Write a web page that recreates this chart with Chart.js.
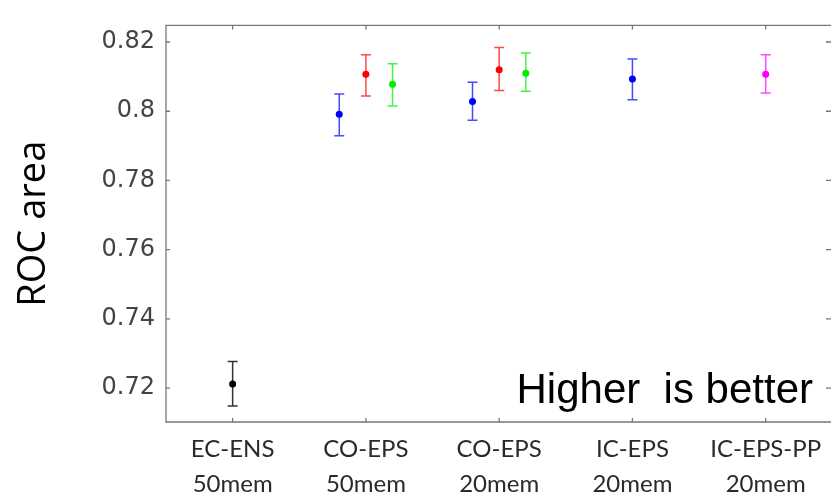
<!DOCTYPE html>
<html>
<head>
<meta charset="utf-8">
<title>ROC area</title>
<script src="https://cdn.jsdelivr.net/npm/chart.js@4.4.0/dist/chart.umd.min.js"></script>
<style>
  html, body { margin: 0; padding: 0; background: #fff; }
  #wrap { width: 835px; height: 498px; }
</style>
</head>
<body>
<div id="wrap"><canvas id="chart" width="835" height="498"></canvas></div>
<script>
// categories on the x axis (two lines each)
const categories = [
  ['EC-ENS', '50mem'],
  ['CO-EPS', '50mem'],
  ['CO-EPS', '20mem'],
  ['IC-EPS', '20mem'],
  ['IC-EPS-PP', '20mem']
];
const yTicks = [0.72, 0.74, 0.76, 0.78, 0.8, 0.82];

// series: x position (category index), mean, lower and upper error bound
const blackPos = [1];
const blackMean = [0.7212];
const blackLow = [0.7148];
const blackHigh = [0.7277];

const bluePos = [1.8, 2.8, 4];
const blueMean = [0.7991, 0.8028, 0.8093];
const blueLow = [0.7929, 0.7974, 0.8033];
const blueHigh = [0.8050, 0.8084, 0.8151];

const redPos = [2, 3];
const redMean = [0.8107, 0.8120];
const redLow = [0.8044, 0.8060];
const redHigh = [0.8163, 0.8184];

const greenPos = [2.2, 3.2];
const greenMean = [0.8078, 0.8110];
const greenLow = [0.8015, 0.8058];
const greenHigh = [0.8137, 0.8168];

const magentaPos = [5];
const magentaMean = [0.8107];
const magentaLow = [0.8053];
const magentaHigh = [0.8163];

function makeSet(pos, mean, low, high, color, barColor) {
  return {
    data: pos.map((x, i) => ({ x: x, y: mean[i], lo: low[i], hi: high[i] })),
    backgroundColor: color,
    borderColor: color,
    barColor: barColor,
    pointRadius: 3.5,
    borderWidth: 0,
    showLine: false
  };
}

// error bars drawn under the points
const errorBars = {
  id: 'errorBars',
  beforeDatasetsDraw(chart) {
    const ctx = chart.ctx;
    const xs = chart.scales.x, ys = chart.scales.y;
    ctx.save();
    chart.data.datasets.forEach(ds => {
      ctx.strokeStyle = ds.barColor;
      ctx.lineWidth = 1.5;
      ds.data.forEach(p => {
        const x = xs.getPixelForValue(p.x);
        const yl = ys.getPixelForValue(p.lo);
        const yh = ys.getPixelForValue(p.hi);
        ctx.beginPath();
        ctx.moveTo(x, yl); ctx.lineTo(x, yh);
        ctx.moveTo(x - 5, yl); ctx.lineTo(x + 5, yl);
        ctx.moveTo(x - 5, yh); ctx.lineTo(x + 5, yh);
        ctx.stroke();
      });
    });
    ctx.restore();
  }
};

// box with inward ticks, plus the note
const frame = {
  id: 'frame',
  afterDraw(chart) {
    const ctx = chart.ctx;
    const a = chart.chartArea;
    const xs = chart.scales.x, ys = chart.scales.y;
    ctx.save();
    ctx.strokeStyle = '#777';
    ctx.lineWidth = 1.3;
    ctx.beginPath();
    ctx.moveTo(a.right, a.top); ctx.lineTo(a.left, a.top);
    ctx.lineTo(a.left, a.bottom); ctx.lineTo(a.right, a.bottom);
    yTicks.forEach(v => {
      const y = ys.getPixelForValue(v);
      ctx.moveTo(a.left, y); ctx.lineTo(a.left + 4, y);
      ctx.moveTo(a.right, y); ctx.lineTo(a.right - 5, y);
    });
    categories.forEach((c, i) => {
      const x = xs.getPixelForValue(i + 1);
      ctx.moveTo(x, a.bottom); ctx.lineTo(x, a.bottom - 4);
      ctx.moveTo(x, a.top); ctx.lineTo(x, a.top + 4);
    });
    ctx.stroke();

    ctx.fillStyle = '#000';
    ctx.font = '42px "Liberation Sans", Arial, sans-serif';
    ctx.textAlign = 'right';
    ctx.textBaseline = 'alphabetic';
    ctx.fillText('Higher  is better', a.right - 18, a.bottom - 19);
    ctx.restore();
  }
};

new Chart(document.getElementById('chart'), {
  type: 'scatter',
  data: {
    datasets: [
      makeSet(blackPos, blackMean, blackLow, blackHigh, '#000000', '#333333'),
      makeSet(bluePos, blueMean, blueLow, blueHigh, '#0000ff', 'rgba(40,40,255,0.85)'),
      makeSet(redPos, redMean, redLow, redHigh, '#ff0000', 'rgba(255,40,40,0.85)'),
      makeSet(greenPos, greenMean, greenLow, greenHigh, '#00ee00', 'rgba(40,240,40,0.85)'),
      makeSet(magentaPos, magentaMean, magentaLow, magentaHigh, '#ff00ff', 'rgba(255,40,255,0.85)')
    ]
  },
  options: {
    responsive: false,
    animation: false,
    devicePixelRatio: 1,
    layout: { padding: { top: 12, right: 0, left: 0, bottom: 0 } },
    plugins: { legend: { display: false }, tooltip: { enabled: false } },
    scales: {
      x: {
        type: 'linear',
        min: 0.5,
        max: 5.49,
        grid: { display: false, drawTicks: false },
        border: { display: false },
        afterBuildTicks: s => { s.ticks = categories.map((c, i) => ({ value: i + 1 })); },
        afterFit: s => { s.height = 76; },
        ticks: {
          autoSkip: false,
          maxRotation: 0,
          padding: 10,
          color: '#2a2a2a',
          font: { family: 'Lato, "Open Sans", sans-serif', size: 24, lineHeight: 1.45 },
          callback: v => categories[Math.round(v) - 1]
        }
      },
      y: {
        min: 0.7102,
        max: 0.8248,
        grid: { display: false, drawTicks: false },
        border: { display: false },
        afterBuildTicks: s => { s.ticks = yTicks.map(v => ({ value: v })); },
        afterFit: s => { s.width = 166; },
        ticks: {
          padding: 11,
          color: '#444',
          font: { family: '"DejaVu Sans", sans-serif', size: 24 },
          callback: v => String(+v.toFixed(2))
        },
        title: {
          display: true,
          text: 'ROC area',
          color: '#000',
          padding: { top: 11, bottom: 0 },
          font: { family: '"Open Sans", sans-serif', size: 38, lineHeight: 1.2 }
        }
      }
    }
  },
  plugins: [errorBars, frame]
});
</script>
</body>
</html>
